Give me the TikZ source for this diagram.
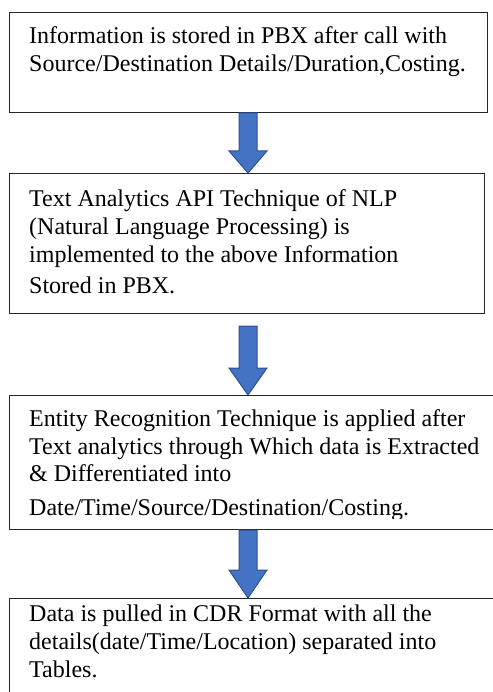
\documentclass[tikz,border=0pt]{standalone}
\usepackage{fontspec}
\setmainfont{Liberation Serif}
\usetikzlibrary{calc}
\definecolor{arrowblue}{HTML}{4472C4}
\definecolor{arrowedge}{HTML}{2F528F}
\newcommand\flowarrow[3]{%
  \draw[bigarrow] ($(#1)+(-9,0)$) -- ($(#1)+(9,0)$) -- ($(#2)+(9,-#3)$) --
    ($(#2)+(19,-#3)$) -- (#2) -- ($(#2)+(-19,-#3)$) -- ($(#2)+(-9,-#3)$) -- cycle;}
\begin{document}
\begin{tikzpicture}[x=1pt,y=-1pt,
  box/.style={draw=black!85, line width=1pt, anchor=north west, inner sep=0pt},
  txt/.style={anchor=base west, inner sep=0pt, font=\fontsize{24}{28}\selectfont},
  bigarrow/.style={draw=arrowedge, line width=1pt, fill=arrowblue, line join=miter}]
\useasboundingbox (0,0) rectangle (492,692);
\node[box, minimum width=478pt, minimum height=100pt] (b1) at (9,12) {};
\node[box, minimum width=475pt, minimum height=140pt] (b2) at (9,173) {};
\node[box, minimum width=485pt, minimum height=134pt] (b3) at (9,395) {};
\node[box, minimum width=485pt, minimum height=120pt] (b4) at (9,598) {};
\coordinate (ax) at (248,0);
\node[txt] (t1) at (29,44) {\parbox[t]{470pt}{\raggedright Information is stored in PBX after call with\\Source/Destination Details/Duration,Costing.}};
\node[txt] (t2) at (29,206.5) {\parbox[t]{470pt}{\raggedright Text Analytics API Technique of NLP\\(Natural Language Processing) is\\implemented to the above Information\\[3pt]Stored in PBX.}};
\begin{scope}
\clip (0,395) rectangle (492,518);
\node[txt] (t3) at (29,426.5) {\parbox[t]{470pt}{\raggedright Entity Recognition Technique is applied after\\Text analytics through Which data is Extracted\\[-1pt]\& Differentiated into\\[6pt]Date/Time/Source/Destination/Costing.}};
\end{scope}
\node[txt] (t4) at (29,621.5) {\parbox[t]{470pt}{\raggedright Data is pulled in CDR Format with all the\\details(date/Time/Location) separated into\\Tables.}};
\coordinate (s1) at (b1.south -| ax);
\coordinate (e1) at (b2.north -| ax);
\coordinate (s2) at ($(b2.south -| ax)+(0,12)$);
\coordinate (e2) at (b3.north -| ax);
\coordinate (s3) at (b3.south -| ax);
\coordinate (e3) at (b4.north -| ax);
\flowarrow{s1}{e1}{22}
\flowarrow{s2}{e2}{27}
\flowarrow{s3}{e3}{28}
\end{tikzpicture}
\end{document}
